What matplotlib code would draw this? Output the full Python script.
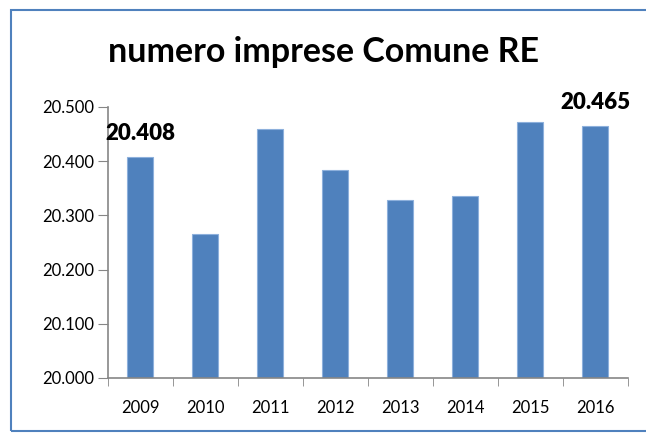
import matplotlib
matplotlib.use("Agg")
import matplotlib.pyplot as plt
from matplotlib.patches import Rectangle
from matplotlib.ticker import FuncFormatter, FixedLocator

years = ["2009", "2010", "2011", "2012", "2013", "2014", "2015", "2016"]
values = [20408, 20266, 20459, 20383, 20328, 20336, 20473, 20465]
labelled = {"2009": "20.408", "2016": "20.465"}
yticks = [20000, 20100, 20200, 20300, 20400, 20500]

plt.rcParams['font.family'] = ['Lato', 'DejaVu Sans']

fig = plt.figure(figsize=(6.46, 4.36), dpi=100)
W, H = 646, 436
ax = fig.add_axes([108 / W, 1 - 378 / H, (628 - 108) / W, (378 - 107) / H])

x = list(range(len(years)))
ax.bar(x, [v - 20000 for v in values], bottom=20000, width=0.4,
       color="#4F81BD", edgecolor="#8DB0DC", linewidth=0.8, zorder=2)

ax.set_xlim(-0.5, len(years) - 0.5)
ax.set_ylim(20000, 20500)
ax.yaxis.set_major_locator(FixedLocator(yticks))
ax.yaxis.set_major_formatter(FuncFormatter(lambda v, p: f"{v/1000:.3f}"))
ax.set_xticks(x)
ax.set_xticklabels(years)
ax.set_xticks([i - 0.5 for i in range(len(years) + 1)], minor=True)
ax.tick_params(axis='x', which='major', length=0, pad=16, labelsize=12)
ax.tick_params(axis='x', which='minor', length=6, color="#868686", direction='out')
ax.tick_params(axis='y', length=7, color="#868686", labelsize=12, pad=3)

for s in ["top", "right"]:
    ax.spines[s].set_visible(False)
for s in ["left", "bottom"]:
    ax.spines[s].set_color("#868686")
    ax.spines[s].set_linewidth(1.2)

for i, (yr, v) in enumerate(zip(years, values)):
    if yr in labelled:
        ax.annotate(labelled[yr], (i, v), xytext=(0, 12), textcoords='offset points',
                    ha='center', va='baseline', fontsize=16, fontweight='heavy', color='black')

fig.text(0.5, 1 - 52 / H, "numero imprese Comune RE", ha='center', va='center',
         fontsize=24.5, fontweight='bold')

border = Rectangle((11 / W, 1 - 431 / H), (660 - 11) / W, (431 - 10) / H,
                   transform=fig.transFigure, fill=False, edgecolor="#4F81BD",
                   linewidth=1.5, clip_on=False)
fig.patches.append(border)

fig.savefig("out.png", dpi=100)
